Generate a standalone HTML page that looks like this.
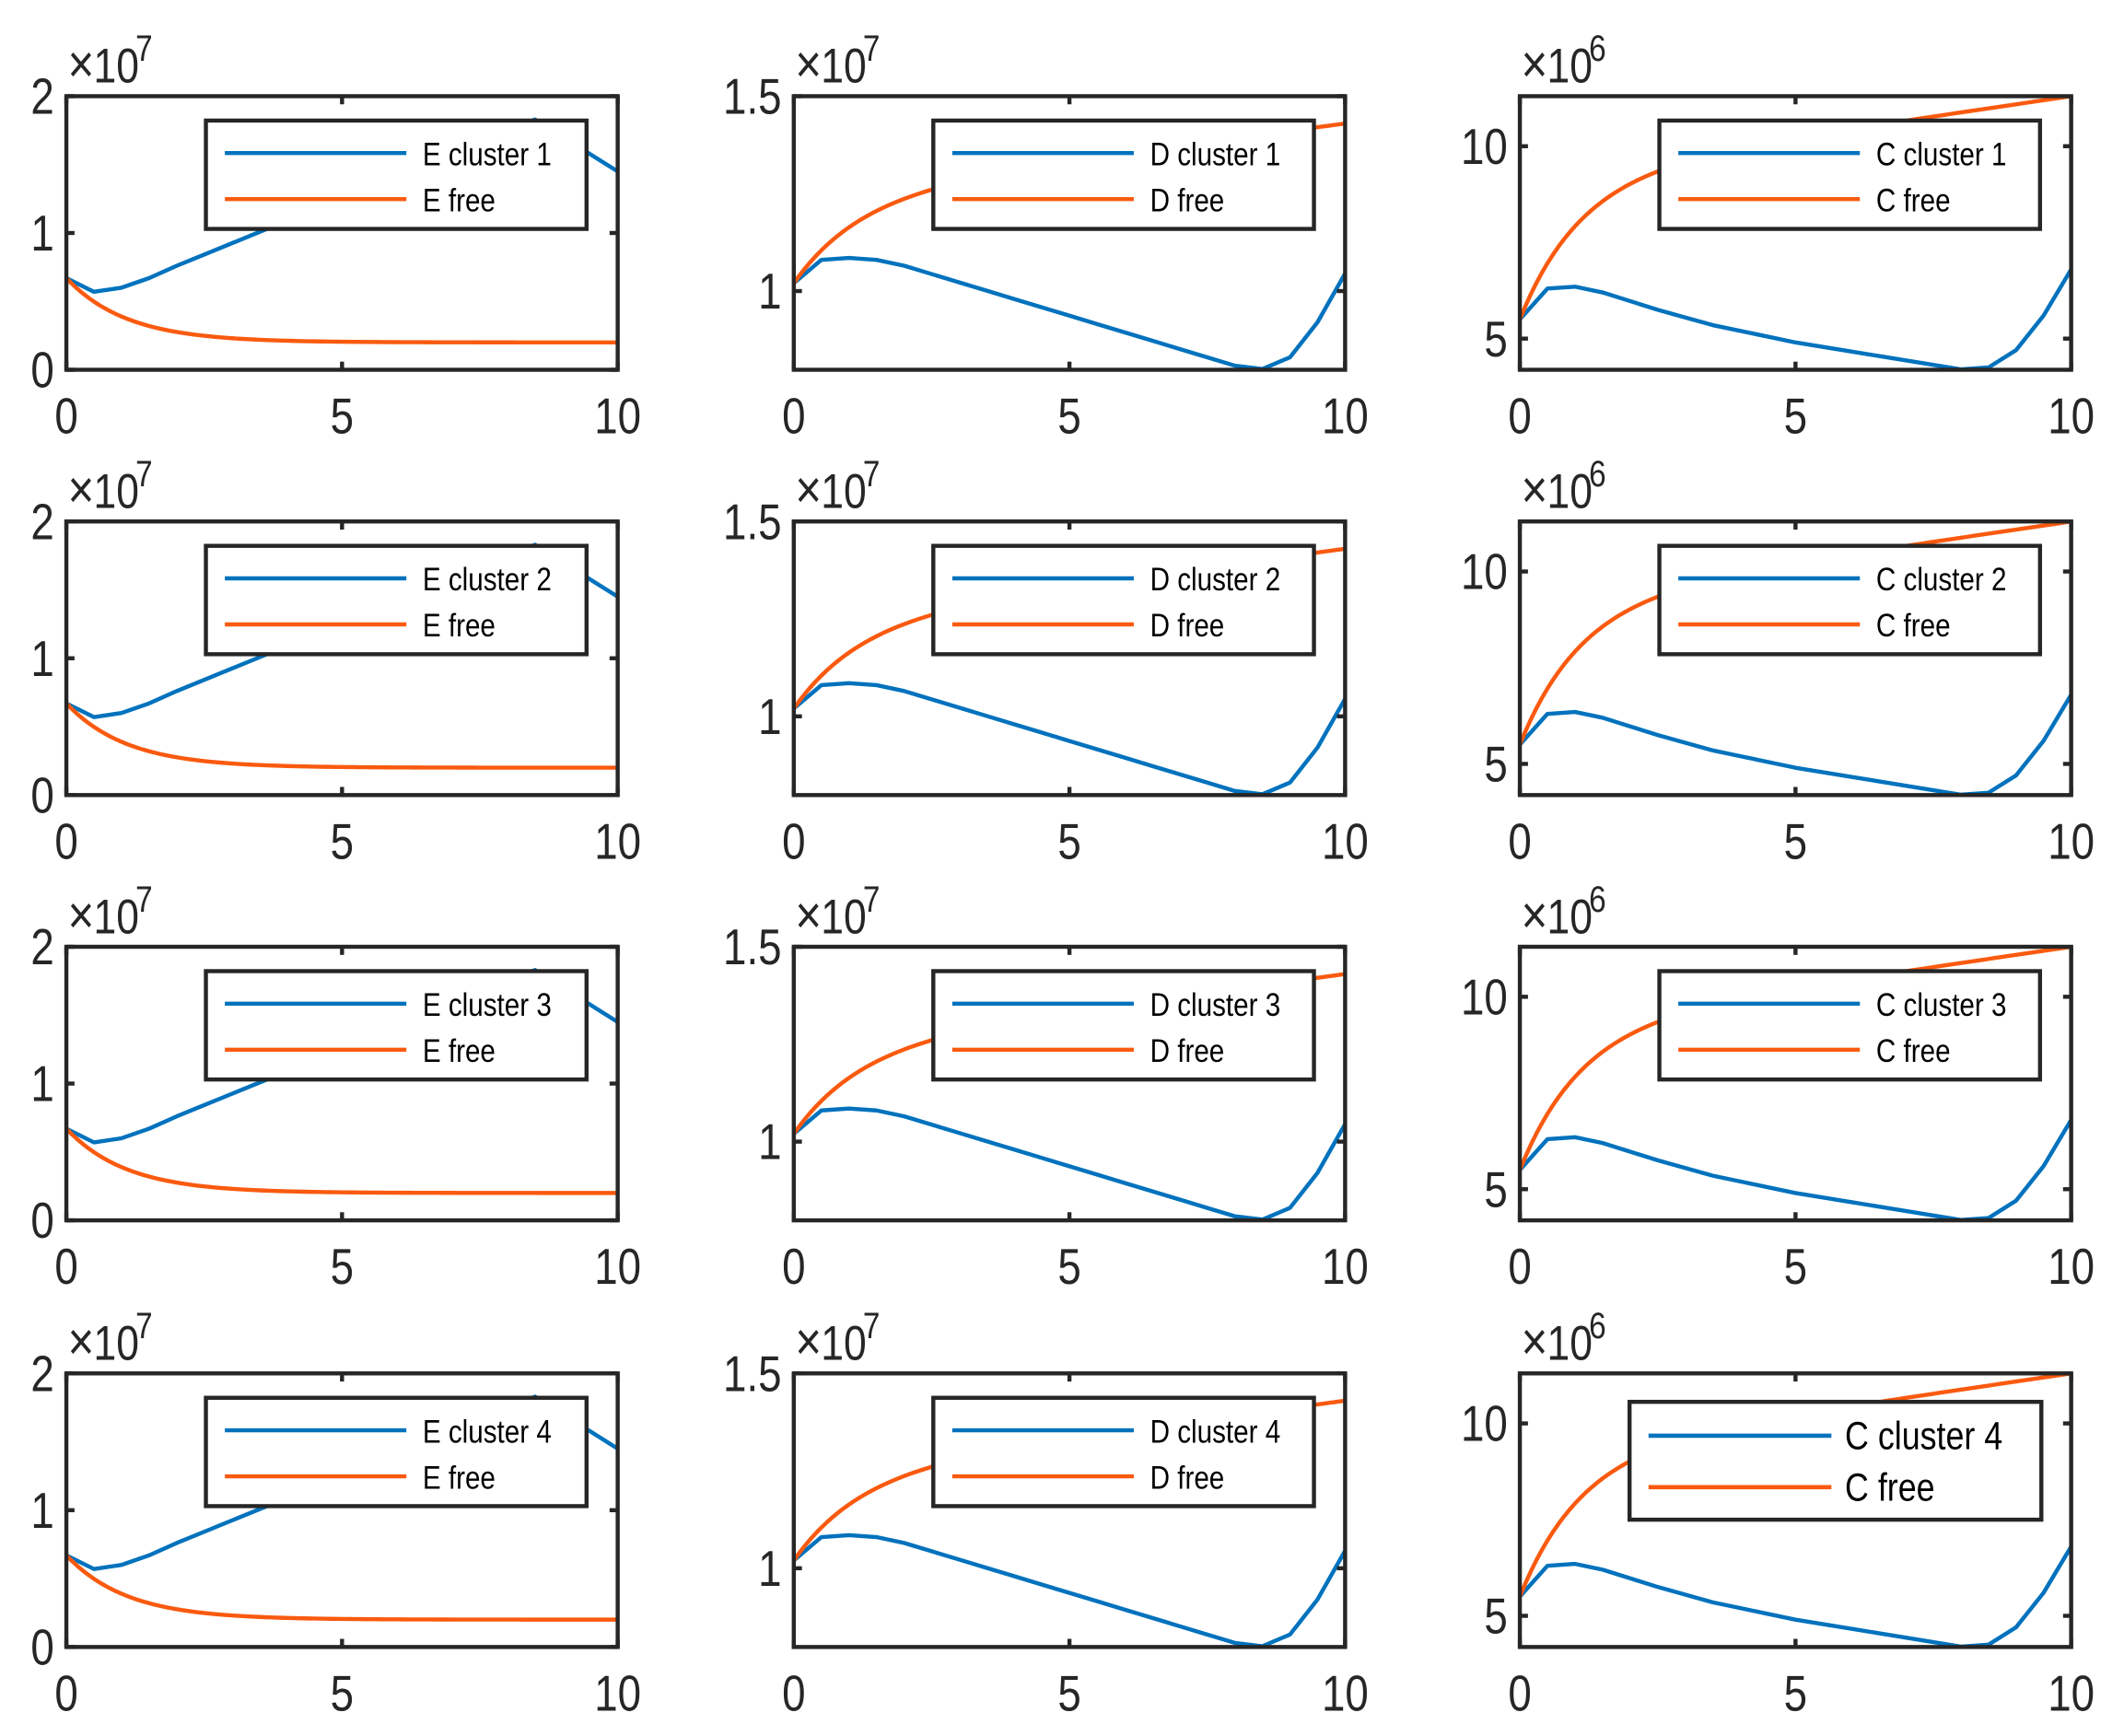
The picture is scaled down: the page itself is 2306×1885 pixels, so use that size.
<!DOCTYPE html>
<html><head><meta charset="utf-8"><style>
html,body{margin:0;padding:0;background:#fff}
svg{display:block}
text{font-family:"Liberation Sans",Arial,sans-serif}
</style></head><body>
<svg id="s" width="2306" height="1885" viewBox="0 0 1568 1281.7" xmlns="http://www.w3.org/2000/svg"></svg>
<script>
const NS="http://www.w3.org/2000/svg",S=document.getElementById('s');
function el(t,a,txt){const e=document.createElementNS(NS,t);for(const k in a)e.setAttribute(k,a[k]);if(txt!==undefined)e.textContent=txt;S.appendChild(e);return e;}
function tx(x,y,size,str,anchor,fill,sx){return el('text',{transform:`translate(${x},${y}) scale(${sx||0.84},1)`,'font-size':size,fill:fill||AX,'text-anchor':anchor||'start'},str);}
const BLUE="#0072BD",OR="#FA5A0F",AX="#262626";
const cols=[49,586,1122],W=407,H=202;
const rows=[71,385,699,1014];
const xs=[];for(let i=0;i<=20;i++)xs.push(i*0.5);
function interp(pts,x){for(let i=0;i<pts.length-1;i++){if(x<=pts[i+1][0]){const t=(x-pts[i][0])/(pts[i+1][0]-pts[i][0]);return pts[i][1]+t*(pts[i+1][1]-pts[i][1]);}}return pts[pts.length-1][1];}
const sets=[
 {L:'E',ymin:0,ymax:2,ticks:[0,1,2],tl:['0','1','2'],exp:'7',
  blue:x=>interp([[0,0.67],[0.5,0.57],[1,0.6],[1.5,0.67],[2,0.76],[8.5,1.83],[10,1.45]],x),
  orange:x=>0.2+0.47*Math.exp(-x/1.1)},
 {L:'D',ymin:0.798,ymax:1.5,ticks:[1,1.5],tl:['1','1.5'],exp:'7',
  blue:x=>interp([[0,1.02],[0.5,1.08],[1,1.085],[1.5,1.08],[2,1.065],[8.2,0.8],[8.6,0.8],[9,0.83],[9.5,0.92],[10,1.045]],x),
  orange:x=>1.02+0.22*(1-Math.exp(-x/1.2))+0.019*x},
 {L:'C',ymin:4.19,ymax:11.3,ticks:[5,10],tl:['5','10'],exp:'6',
  blue:x=>interp([[0,5.5],[0.5,6.3],[1,6.35],[1.5,6.2],[2.5,5.75],[3.5,5.35],[5,4.9],[6.5,4.55],[8,4.2],[8.5,4.25],[9,4.7],[9.5,5.6],[10,6.8]],x),
  orange:x=>5.5+3.7*(1-Math.exp(-x/1.1))+0.21*x}
];
for(let r=0;r<4;r++)for(let c=0;c<3;c++){
 const X0=cols[c],Y0=rows[r],d=sets[c];
 const px=x=>X0+x/10*W, py=v=>Y0+H-(v-d.ymin)/(d.ymax-d.ymin)*H;
 const xsF=[];for(let i=0;i<=100;i++)xsF.push(i*0.1);
 el('polyline',{points:xs.map(x=>px(x)+','+py(d.blue(x))).join(' '),fill:'none',stroke:BLUE,'stroke-width':3,'stroke-linejoin':'round'});
 el('polyline',{points:xsF.map(x=>px(x)+','+py(d.orange(x))).join(' '),fill:'none',stroke:OR,'stroke-width':3,'stroke-linejoin':'round'});
 el('rect',{x:X0,y:Y0,width:W,height:H,fill:'none',stroke:AX,'stroke-width':3});
 [0,5,10].forEach(t=>{const x=px(t);
  el('line',{x1:x,y1:Y0+H,x2:x,y2:Y0+H-6,stroke:AX,'stroke-width':3});
  el('line',{x1:x,y1:Y0,x2:x,y2:Y0+6,stroke:AX,'stroke-width':3});
  tx(x,Y0+H+47,37,String(t),'middle');});
 d.ticks.forEach((t,i)=>{const y=py(t);
  el('line',{x1:X0,y1:y,x2:X0+6,y2:y,stroke:AX,'stroke-width':3});
  el('line',{x1:X0+W,y1:y,x2:X0+W-6,y2:y,stroke:AX,'stroke-width':3});
  tx(X0-9,y+13,37,d.tl[i],'end');});
 tx(X0+1,Y0-10,40,'\u00d7');
 tx(X0+20,Y0-10,36,'10');
 tx(X0+51,Y0-26,27,d.exp);
 if(r===3&&c===2){
  el('rect',{x:1203,y:1035,width:304,height:87,fill:'#fff',stroke:'#262626','stroke-width':3});
  el('line',{x1:1217,y1:1060,x2:1352,y2:1060,stroke:BLUE,'stroke-width':3.2});
  el('line',{x1:1217,y1:1098,x2:1352,y2:1098,stroke:OR,'stroke-width':3.2});
  tx(1362,1070,29,'C cluster 4','start','#000');
  tx(1362,1108,29,'C free','start','#000');
 } else {
  const lx=X0+103,ly=Y0+18;
  el('rect',{x:lx,y:ly,width:281,height:80,fill:'#fff',stroke:'#262626','stroke-width':3});
  el('line',{x1:lx+14,y1:ly+24,x2:lx+148,y2:ly+24,stroke:BLUE,'stroke-width':3});
  el('line',{x1:lx+14,y1:ly+58,x2:lx+148,y2:ly+58,stroke:OR,'stroke-width':3});
  tx(lx+160,ly+33,24,d.L+' cluster '+(r+1),'start','#000');
  tx(lx+160,ly+67,24,d.L+' free','start','#000');
 }
}
</script>
</body></html>
